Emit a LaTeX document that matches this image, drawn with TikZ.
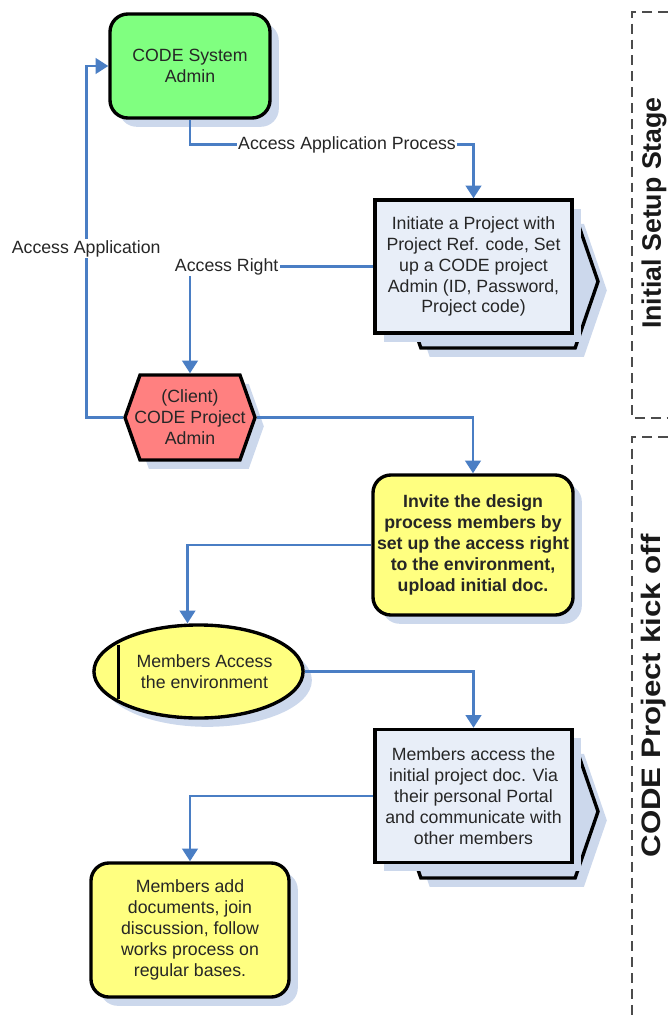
\documentclass[tikz,border=0pt]{standalone}
\usepackage{fontspec}
\setmainfont{Liberation Sans}
\usetikzlibrary{arrows.meta,positioning,calc,shapes.symbols,shapes.geometric,shadows}

\definecolor{adminGreen}{HTML}{80FF80}
\definecolor{clientRed}{HTML}{FF8080}
\definecolor{noteYellow}{HTML}{FFFF80}
\definecolor{docBlue}{HTML}{E8EEF8}
\definecolor{shadowBlue}{HTML}{CCD8EC}
\definecolor{linkBlue}{HTML}{4A7EC4}

\begin{document}
\begin{tikzpicture}[x=0.025cm, y=-0.025cm,
  every node/.style={font=\fontsize{12.6}{14.9}\selectfont, text=black!85},
  blueshadow/.style={drop shadow={shadow xshift=0.22cm, shadow yshift=-0.22cm,
    fill=shadowBlue, opacity=1}},
  rbox/.style={draw=black, line width=2.4pt, rounded corners=0.45cm,
    align=center, inner sep=0pt, blueshadow},
  docfront/.style={draw=black, line width=2.4pt, fill=docBlue, align=center,
    inner sep=0pt, minimum width=4.925cm, minimum height=3.325cm, blueshadow},
  docback/.style={draw=black, line width=2.4pt, fill=shadowBlue, signal,
    signal to=east and west, signal pointer angle=142, inner sep=0pt,
    minimum width=5cm, minimum height=3.325cm, blueshadow},
  conn/.style={linkBlue, line width=1.9pt},
  arr/.style={conn, -{Triangle[length=9pt, width=11pt]}},
  lbl/.style={fill=white, inner sep=1pt},
  lane/.style={gray!60!black, line width=1pt, dash pattern=on 7pt off 4.3pt},
  stagelbl/.style={font=\fontsize{19}{22}\selectfont\bfseries, text=black!90}
]
\useasboundingbox (0,0) rectangle (668,1017);

% Stage lanes
\draw[lane] (668,12) -| (632,418) -- (668,418);
\draw[lane] (668,437) -| (632,1017);
\node[stagelbl, rotate=90] (stage1) at (654,213) {Initial Setup Stage};
\node[stagelbl, rotate=90, xscale=1.17] (stage2) at (654,696) {CODE Project kick off};

% CODE system admin
\node[rbox, fill=adminGreen, minimum width=4cm, minimum height=2.6cm]
  (sysadmin) at (190,66) {CODE System\\Admin};

% Initiate a project
\node[docback] (initback) at (498,281.5) {};
\node[docfront] (init) at (473.5,266.5)
  {Initiate a Project with\\Project Ref. code, Set\\up a CODE project\\Admin (ID, Password,\\Project code)};

% Client project admin
\node[draw=black, line width=2.4pt, fill=clientRed, signal, signal to=east and west,
  signal pointer angle=141, inner ysep=0pt, inner xsep=-0.2cm, align=center,
  minimum width=3.25cm, minimum height=2.125cm, blueshadow]
  (client) at (190,417.5) {(Client)\\CODE Project\\Admin};

% Invite members
\node[rbox, fill=noteYellow, minimum width=5cm, minimum height=3.5cm,
  font=\fontsize{12.6}{14.9}\selectfont\bfseries]
  (invite) at (473,545)
  {Invite the design\\process members by\\set up the access right\\to the environment,\\upload initial doc.};

% Members access the environment
\node[draw=black, line width=2.4pt, fill=noteYellow, ellipse, align=center,
  inner sep=0pt, minimum width=4.925cm, minimum height=2.325cm, blueshadow]
  (env) at (198.5,671.5) {\hspace*{0.3cm}Members Access\\\hspace*{0.3cm}the environment};
\draw[line width=2.4pt] ($(env.center)+(-80,-27)$) -- ($(env.center)+(-80,27)$);

% Members access the project doc
\node[docback] (membersback) at (498,811.5) {};
\node[docfront] (members) at (473.5,796)
  {Members access the\\initial project doc. Via\\their personal Portal\\and communicate with\\other members};

% Members add documents
\node[rbox, fill=noteYellow, minimum width=4.95cm, minimum height=3.35cm]
  (work) at (190,930)
  {Members add\\documents, join\\discussion, follow\\works process on\\regular bases.};

% Connectors
\draw[arr] (sysadmin.south) -- ++(0,25)
  -| node[lbl, pos=0.277] (aap) {Access Application Process} (init.north);
\draw[arr] (init.west) -| node[lbl, pos=0.40] (ar) {Access Right} (client.north);
\draw[arr] (client.west) -- ++(-37,0)
  |- node[lbl, pos=0.24] (aa) {Access Application} (sysadmin.west);
\draw[arr] (client.east) -| (invite.north);
\draw[arr] (invite.west) -| ($(env.north)+(-11,0)$);
\draw[arr] (env.east) -| (members.north);
\draw[arr] (members.west) -| (work.north);

\end{tikzpicture}
\end{document}
